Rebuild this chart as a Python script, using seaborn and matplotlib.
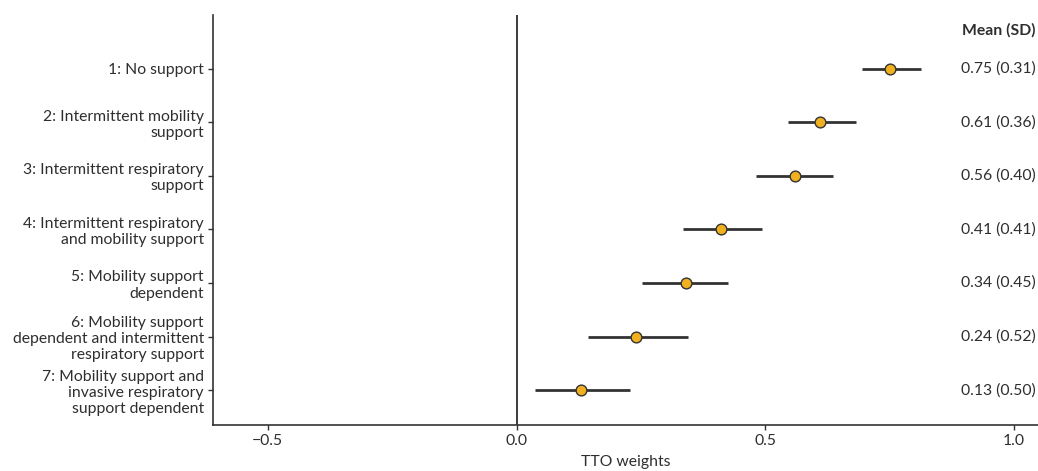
import numpy as np
import pandas as pd
import matplotlib
matplotlib.use("Agg")
import matplotlib.pyplot as plt
import seaborn as sns

states = [
    "1: No support",
    "2: Intermittent mobility\nsupport",
    "3: Intermittent respiratory\nsupport",
    "4: Intermittent respiratory\nand mobility support",
    "5: Mobility support\ndependent",
    "6: Mobility support\ndependent and intermittent\nrespiratory support",
    "7: Mobility support and\ninvasive respiratory\nsupport dependent",
]
means = [0.75, 0.61, 0.56, 0.41, 0.34, 0.24, 0.13]
sds = [0.31, 0.36, 0.40, 0.41, 0.45, 0.52, 0.50]
ci_low = [0.695, 0.545, 0.481, 0.334, 0.252, 0.143, 0.038]
ci_high = [0.813, 0.682, 0.636, 0.493, 0.425, 0.344, 0.229]
xticks = [-0.5, 0.0, 0.5, 1.0]

df = pd.DataFrame({"state": states, "mean": means, "sd": sds,
                   "lo": ci_low, "hi": ci_high})
df["row"] = np.arange(len(df))

sns.set_theme(style="ticks")
plt.rcParams["font.family"] = ["Lato", "DejaVu Sans"]
txt = "#2e2e2e"
fs = 11.3

fig = plt.figure(figsize=(10.38, 4.71), dpi=100)
ax = fig.add_axes([213 / 1038, 46 / 471, 1 - 213 / 1038, (425 - 15) / 471])

ax.axvline(0, color="#1a1a1a", lw=1.2, zorder=1)
ax.hlines(df["row"], df["lo"], df["hi"], color="#333333", lw=2, zorder=2)
sns.scatterplot(data=df, x="mean", y="row", ax=ax, color="#F0B020",
                edgecolor="#333333", linewidth=1.0, s=60, zorder=3, legend=False)

ax.set_xlim(-0.61, 1.048)
ax.set_ylim(6.65, -1.0)
ax.set_xticks(xticks)
ax.set_xticklabels(["\u22120.5", "0.0", "0.5", "1.0"], color=txt, fontsize=fs)
ax.set_yticks(df["row"])
ax.set_yticklabels(df["state"], color=txt, fontsize=fs, multialignment="right")
ax.set_xlabel("TTO weights", color=txt, fontsize=fs, labelpad=5)
ax.set_ylabel("")

for s in ["top", "right"]:
    ax.spines[s].set_visible(False)
for s in ["left", "bottom"]:
    ax.spines[s].set_color("#333333")
    ax.spines[s].set_linewidth(1.2)
ax.tick_params(axis="both", length=3.5, width=1, color="#333333", pad=3)

ax.text(1.043, -0.72, "Mean (SD)", ha="right", va="center", fontsize=fs,
        fontweight="bold", color=txt, clip_on=False)
for r, m, s in zip(df["row"], df["mean"], df["sd"]):
    ax.text(1.043, r, f"{m:.2f} ({s:.2f})", ha="right", va="center",
            fontsize=fs, color=txt, clip_on=False)

fig.savefig("out.png", dpi=100)
